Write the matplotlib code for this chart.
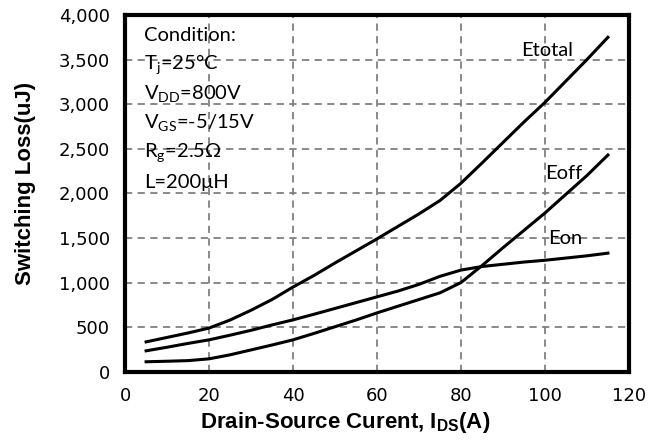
import matplotlib
matplotlib.use("Agg")
import matplotlib.pyplot as plt
from matplotlib.ticker import FuncFormatter

# values (uJ vs A)
current = [5, 10, 15, 20, 25, 30, 35, 40, 45, 50, 55, 60, 65, 70, 75, 80, 85, 90, 95, 100, 105, 110, 115]
etotal = [335, 385, 435, 490, 580, 690, 810, 950, 1080, 1220, 1355, 1490, 1630, 1770, 1920, 2114, 2340, 2570, 2800, 3020, 3260, 3500, 3750]
eon = [235, 275, 318, 358, 410, 465, 525, 582, 645, 710, 775, 840, 905, 980, 1070, 1140, 1180, 1205, 1230, 1250, 1275, 1300, 1330]
eoff = [112, 118, 125, 145, 190, 245, 300, 358, 430, 505, 580, 660, 735, 810, 885, 1000, 1190, 1390, 1585, 1780, 1990, 2200, 2430]

x_ticks = [0, 20, 40, 60, 80, 100, 120]
y_ticks = [0, 500, 1000, 1500, 2000, 2500, 3000, 3500, 4000]

conditions = ["Condition:",
              r"T$_\mathregular{j}$=25°C",
              r"V$_\mathregular{DD}$=800V",
              r"V$_\mathregular{GS}$=-5/15V",
              r"R$_\mathregular{g}$=2.5Ω",
              "L=200μH"]

fig = plt.figure(figsize=(6.62, 4.41), dpi=100)
ax = fig.add_axes([0.189, 0.157, 0.761, 0.809])

ax.plot(current, etotal, color="black", lw=2.2)
ax.plot(current, eon, color="black", lw=2.2)
ax.plot(current, eoff, color="black", lw=2.2)

ax.set_xlim(0, 120)
ax.set_ylim(0, 4000)
ax.set_xticks(x_ticks)
ax.set_yticks(y_ticks)
ax.yaxis.set_major_formatter(FuncFormatter(lambda v, p: f"{int(v):,}"))
ax.tick_params(length=0, labelsize=13, pad=11)
ax.grid(True, color="#808080", linestyle=(0, (4, 3)), lw=1.3)
ax.set_axisbelow(True)
for s in ax.spines.values():
    s.set_linewidth(3)

lab_font = dict(family="Liberation Sans", weight="bold", size=16)
ax.set_ylabel("Switching Loss(uJ)", **lab_font)
ax.set_xlabel(r"Drain-Source Curent, I$_\mathregular{DS}$(A)", **lab_font)
# labels sit a bit off-centre in the original
ax.yaxis.set_label_coords(-0.176, 0.527)
ax.xaxis.set_label_coords(0.437, -0.108)

txt_font = dict(family=["Lato", "DejaVu Sans"], size=14.5)
ax.text(94.3, 3600, "Etotal", va="center", ha="left", **txt_font)
ax.text(100, 2225, "Eoff", va="center", ha="left", **txt_font)
ax.text(100.7, 1490, "Eon", va="center", ha="left", **txt_font)

y0 = 3770
for i, line in enumerate(conditions):
    ax.text(4.5, y0 - i * 330, line, va="center", ha="left", **txt_font)

fig.savefig("out.png", dpi=100)
